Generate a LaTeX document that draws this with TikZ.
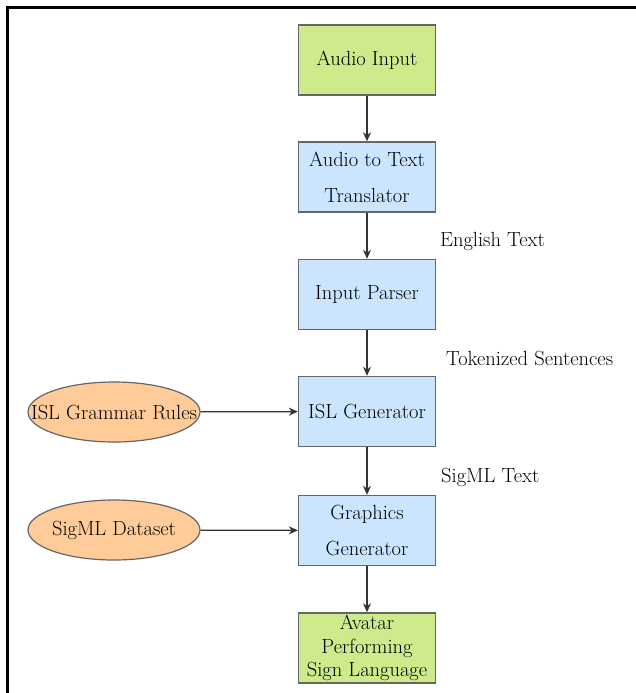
\documentclass[tikz,border=0pt]{standalone}
\usepackage{fontspec}
\usetikzlibrary{shapes.geometric,arrows.meta}
\definecolor{boxgreen}{HTML}{CDEB8B}
\definecolor{boxblue}{HTML}{CCE5FF}
\definecolor{ovalorange}{HTML}{FFCC99}
\definecolor{edgegrey}{HTML}{666666}
\definecolor{arrowgrey}{HTML}{333333}
\tikzset{
  procbox/.style={draw=edgegrey, line width=1.4pt, minimum width=137pt, minimum height=70pt,
    inner sep=0pt, align=center, font=\rmfamily\fontsize{20.5}{36}\selectfont},
  greenbox/.style={procbox, fill=boxgreen},
  bluebox/.style={procbox, fill=boxblue},
  oval/.style={ellipse, draw=edgegrey, line width=1.2pt, fill=ovalorange, minimum width=172pt,
    minimum height=60pt, inner sep=0pt, font=\rmfamily\fontsize{20.5}{24}\selectfont},
  flow/.style={draw=arrowgrey, line width=1.3pt, -{Stealth[length=9pt,width=8pt]}},
  lbl/.style={anchor=west, inner sep=0pt, font=\rmfamily\fontsize{20.5}{24}\selectfont}
}
\begin{document}
\begin{tikzpicture}[x=1pt,y=-1pt]
\useasboundingbox (0,0) rectangle (636,693);
\draw[line width=3pt] (5.5,8) -- (636,8);
\draw[line width=3pt] (7,6.5) -- (7,693);

\node[greenbox] (audio) at (367,60) {Audio Input};
\node[bluebox] (att) at (367,177) {Audio to Text\\Translator};
\node[bluebox] (parser) at (367,294.5) {Input Parser};
\node[bluebox] (islgen) at (367,411.5) {ISL Generator};
\node[bluebox] (graphics) at (367,530.5) {Graphics\\Generator};
\node[greenbox, font=\rmfamily\fontsize{20.5}{23.5}\selectfont] (avatar) at (367,648) {Avatar\\Performing\\Sign Language};

\node[oval] (rules) at (114,412) {\makebox[0pt]{ISL Grammar Rules}};
\node[oval] (dataset) at (114,530) {\makebox[0pt]{SigML Dataset}};

\node[lbl] (lenglish) at (440,241) {English Text};
\node[lbl] (ltoken) at (446,358) {Tokenized Sentences};
\node[lbl] (lsigml) at (441,477) {SigML Text};

\draw[flow] (audio) -- (att);
\draw[flow] (att) -- (parser);
\draw[flow] (parser) -- (islgen);
\draw[flow] (islgen) -- (graphics);
\draw[flow] (graphics) -- (avatar);
\draw[flow] (rules) -- (islgen);
\draw[flow] (dataset) -- (graphics);
\end{tikzpicture}
\end{document}
